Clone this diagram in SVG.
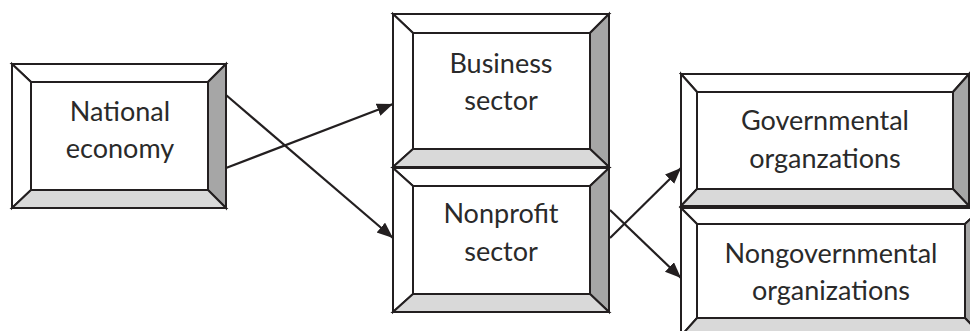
<svg xmlns="http://www.w3.org/2000/svg" width="970" height="331" viewBox="0 0 970 331">
<style>
.o{stroke:#231f20;stroke-width:2;stroke-linejoin:miter}
.w{fill:#ffffff}
.d{fill:#a6a6a6}
.l{fill:#d9d9d9}
.t{font-family:Lato,"Liberation Sans",sans-serif;font-size:27px;font-weight:400;fill:#2a2a2a;text-anchor:middle}
.c{stroke:#231f20;stroke-width:2.2;fill:none;marker-end:url(#ah)}
</style>
<defs>
<marker id="ah" markerUnits="userSpaceOnUse" markerWidth="18" markerHeight="14" refX="16" refY="6.5" orient="auto">
<path d="M0,0 L16,6.5 L0,13 z" fill="#231f20"/>
</marker>
</defs>
<rect width="970" height="331" fill="#ffffff"/>
<g id="national-economy">
<polygon class="o w" points="12,64 226,64 208,82 31,82"/>
<polygon class="o w" points="12,64 31,82 31,190 12,208"/>
<polygon class="o d" points="226,64 226,208 208,190 208,82"/>
<polygon class="o l" points="12,208 226,208 208,190 31,190"/>
<rect class="o w" x="31" y="82" width="177" height="108"/>
<text class="t" x="120" y="121">National</text>
<text class="t" x="120" y="158">economy</text>
</g>
<g id="business-sector">
<polygon class="o w" points="393,14 609,14 590,33 413,33"/>
<polygon class="o w" points="393,14 413,33 413,149 393,167"/>
<polygon class="o d" points="609,14 609,167 590,149 590,33"/>
<polygon class="o l" points="393,167 609,167 590,149 413,149"/>
<rect class="o w" x="413" y="33" width="177" height="116"/>
<text class="t" x="501" y="73">Business</text>
<text class="t" x="501" y="110">sector</text>
</g>
<g id="nonprofit-sector">
<polygon class="o w" points="393,168 609,168 590,186 413,186"/>
<polygon class="o w" points="393,168 413,186 413,294 393,312"/>
<polygon class="o d" points="609,168 609,312 590,294 590,186"/>
<polygon class="o l" points="393,312 609,312 590,294 413,294"/>
<rect class="o w" x="413" y="186" width="177" height="108"/>
<text class="t" x="501" y="223">Nonprofit</text>
<text class="t" x="501" y="261">sector</text>
</g>
<g id="governmental-organizations">
<polygon class="o w" points="681,74 969,74 953,92 697,92"/>
<polygon class="o w" points="681,74 697,92 697,189 681,206"/>
<polygon class="o d" points="969,74 969,206 953,189 953,92"/>
<polygon class="o l" points="681,206 969,206 953,189 697,189"/>
<rect class="o w" x="697" y="92" width="256" height="97"/>
<text class="t" x="825" y="130">Governmental</text>
<text class="t" x="825" y="168">organzations</text>
</g>
<g id="nongovernmental-organizations">
<polygon class="o w" points="681,208 982,208 965,224 697,224"/>
<polygon class="o w" points="681,208 697,224 697,318 681,336"/>
<polygon class="o d" points="982,208 982,336 965,318 965,224"/>
<polygon class="o l" points="681,336 982,336 965,318 697,318"/>
<rect class="o w" x="697" y="224" width="268" height="94"/>
<text class="t" x="831" y="263">Nongovernmental</text>
<text class="t" x="831" y="300">organizations</text>
</g>
<g id="connectors">
<line class="c" x1="226" y1="95" x2="393" y2="238"/>
<line class="c" x1="226" y1="168" x2="393" y2="104"/>
<line class="c" x1="610" y1="238" x2="681" y2="168"/>
<line class="c" x1="610" y1="210" x2="681" y2="278"/>
</g>
</svg>
